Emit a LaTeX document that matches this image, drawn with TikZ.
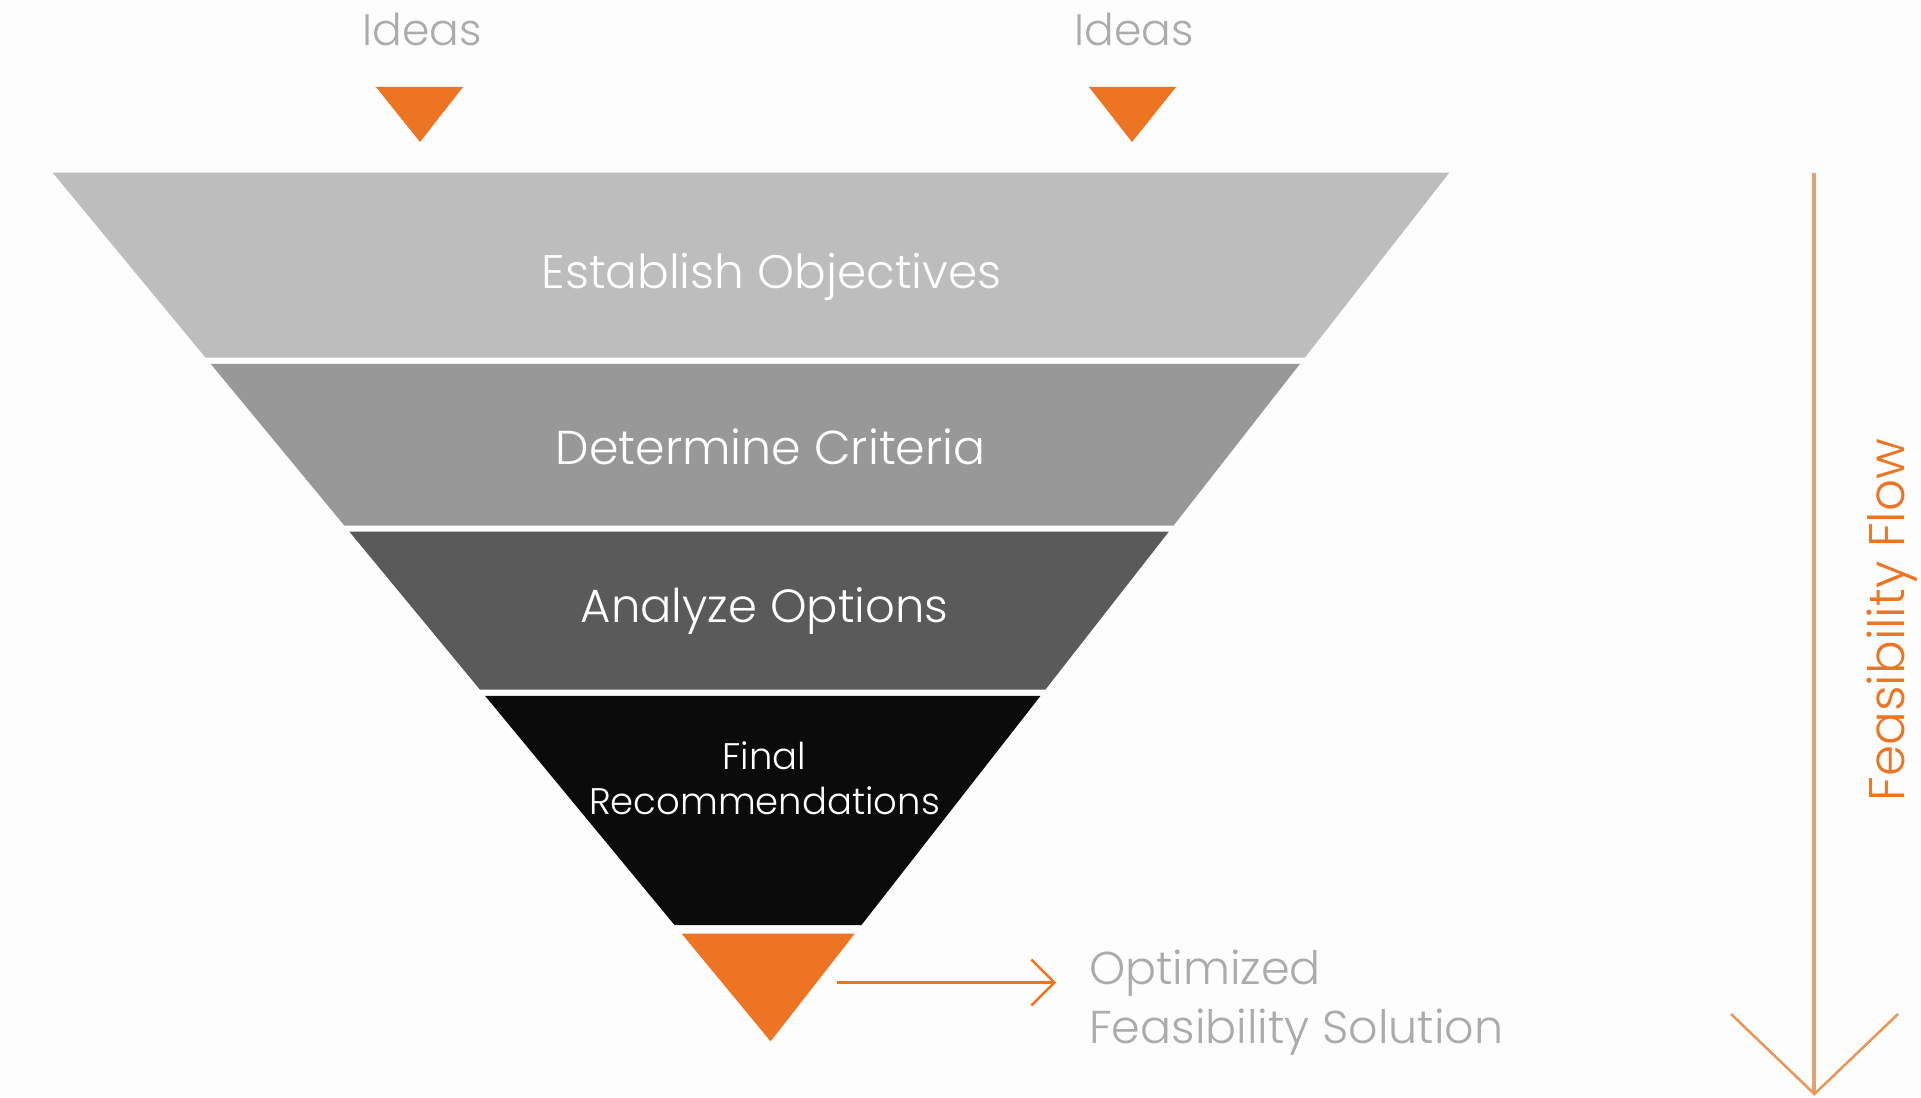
\documentclass[tikz,border=0pt]{standalone}
\usepackage{fontspec}
\setmainfont{Poppins Light}
\usetikzlibrary{calc,arrows.meta}
\definecolor{bg}{HTML}{FDFDFD}
\definecolor{bandA}{HTML}{BDBDBD}
\definecolor{bandB}{HTML}{989898}
\definecolor{bandC}{HTML}{5A5A5A}
\definecolor{bandD}{HTML}{0B0B0B}
\definecolor{accent}{HTML}{ED7422}
\definecolor{flowline}{HTML}{E2A273}
\definecolor{flowtip}{HTML}{EA9655}
\definecolor{softtext}{HTML}{ABABAB}
\newcommand{\funnelband}[3]{%
  \fill[#3] ($(TL)!#1!(A)$) -- ($(TR)!#1!(A)$) -- ($(TR)!#2!(A)$) -- ($(TL)!#2!(A)$) -- cycle;}
\tikzset{
  bandlabel/.style={text=white, align=center, inner sep=0pt},
  ideaslabel/.style={text=softtext, inner sep=0pt, font=\fontsize{44}{50}\selectfont},
  droptri/.style={fill=accent},
}
\begin{document}
\begin{tikzpicture}[x=1pt,y=-1pt]
\useasboundingbox (0,0) rectangle (1921,1097);
\fill[bg] (0,0) rectangle (1921,1097);

% funnel outline: top corners and apex
\coordinate (TL) at (52.7,172.7);
\coordinate (TR) at (1449.3,172.7);
\coordinate (A) at (770.6,1041.3);

% stacked bands separated by thin gaps
\funnelband{0}{0.2130}{bandA}
\funnelband{0.2201}{0.4063}{bandB}
\funnelband{0.4133}{0.5952}{bandC}
\funnelband{0.6023}{0.8661}{bandD}
% orange tip of the funnel
\fill[accent] ($(TL)!0.8759!(A)$) -- ($(TR)!0.8759!(A)$) -- (A) -- cycle;

% band labels
\node[bandlabel, font=\fontsize{47}{53}\selectfont] (n1) at (771.5,277) {Establish Objectives};
\node[bandlabel, font=\fontsize{47.5}{53}\selectfont] (n2) at (770.6,447) {Determine Criteria};
\node[bandlabel, font=\fontsize{46.5}{52}\selectfont] (n3) at (764.5,611) {Analyze Options};
\node[bandlabel, font=\fontsize{37}{45}\selectfont] (n4) at (764.5,778.5) {Final\\Recommendations};

% incoming ideas
\node[ideaslabel] (i1) at (422,29.4) {Ideas};
\node[ideaslabel] (i2) at (1134,29.4) {Ideas};
\fill[droptri] (376,87) -- (463,87) -- (420,142) -- cycle;
\fill[droptri] (1089,87) -- (1176,87) -- (1132,142) -- cycle;

% outcome
\node[text=softtext, align=left, anchor=west, inner sep=0pt,
      font=\fontsize{46}{59}\selectfont] (sol) at (1089,1003) {Optimized\\Feasibility Solution};
\coordinate (arrS) at (837,982.5);
\coordinate (arrE) at (1056,982.5);
\draw[accent, line width=2.4pt, -{Straight Barb[length=23pt,width=46pt]}] (arrS) -- (arrE);

% feasibility flow axis
\coordinate (fTop) at (1814.4,172.7);
\coordinate (fBot) at (1814.4,1094);
\coordinate (fL) at (1731,1014);
\coordinate (fR) at (1898,1014);
\draw[flowline, line width=4pt] (fTop) -- (fBot);
\draw[flowtip, line width=2.5pt] (fL) -- (fBot) -- (fR);
\node[text=accent, rotate=90, inner sep=0pt, font=\fontsize{50}{56}\selectfont] (flow) at (1892,620) {Feasibility Flow};
\end{tikzpicture}
\end{document}
